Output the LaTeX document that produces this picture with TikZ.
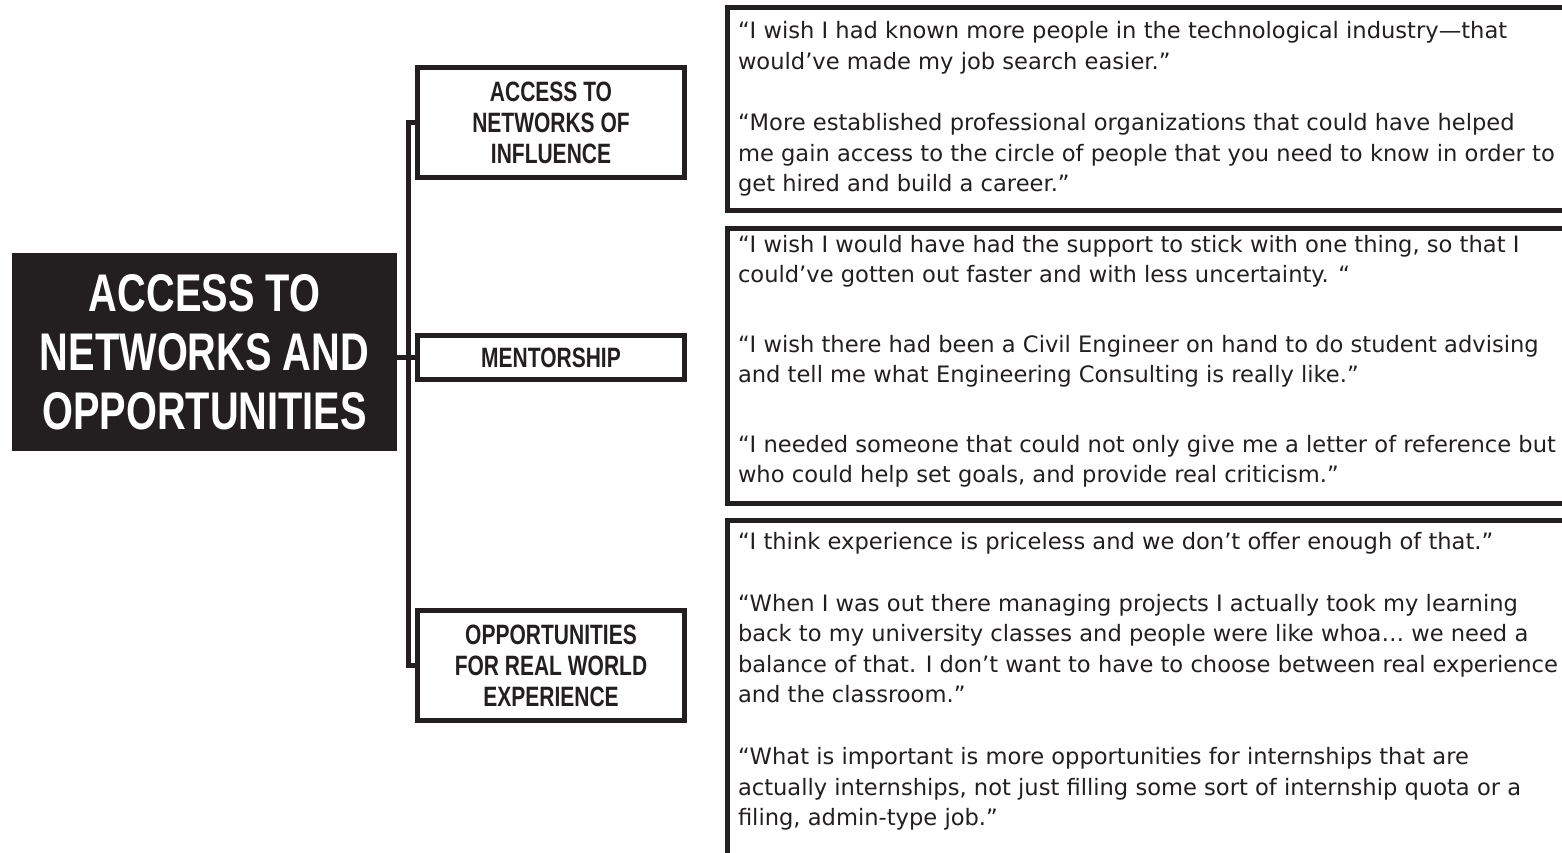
\documentclass[tikz,border=0pt]{standalone}
\usepackage{fontspec}
\setmainfont{Liberation Sans}
\newfontfamily\labelfont[FakeStretch=0.75]{Liberation Sans}
\newfontfamily\quotefont{DejaVu Sans}
\definecolor{ink}{HTML}{231F20}
\begin{document}
\begin{tikzpicture}[x=1pt,y=-1pt,
  mainbox/.style={fill=ink,text=white,anchor=north west,inner sep=0pt,outer sep=0pt,align=center,
    font=\labelfont\bfseries\fontsize{53}{59}\selectfont},
  midbox/.style={draw=ink,line width=5pt,anchor=north west,inner sep=0pt,outer sep=0pt,align=center,
    minimum width=267pt,text=ink,font=\labelfont\bfseries\fontsize{28}{31}\selectfont},
  qbox/.style={draw=ink,line width=5pt,anchor=north west,inner sep=0pt,outer sep=0pt,minimum width=900pt},
  quote/.style={anchor=north west,inner sep=0pt,outer sep=0pt,align=left,text=ink,
    font=\quotefont\fontsize{22.6}{30.5}\selectfont},
  conn/.style={draw=ink,line width=5pt,line join=miter}]
\useasboundingbox (0,0) rectangle (1562,852);
\clip (0,0) rectangle (1562,852);

% main box
\node[mainbox,minimum width=385pt,minimum height=198pt] (main) at (12,253)
  {ACCESS TO\\NETWORKS AND\\OPPORTUNITIES};

% middle boxes
\node[midbox,minimum height=110pt] (inf) at (417.5,67.5) {ACCESS TO\\NETWORKS OF\\INFLUENCE};
\node[midbox,minimum height=44pt] (men) at (417.5,335.5) {MENTORSHIP};
\node[midbox,minimum height=110pt] (opp) at (417.5,610.5) {OPPORTUNITIES\\FOR REAL WORLD\\EXPERIENCE};

% connectors
\draw[conn] (inf.west) -- ++(-9,0) |- (opp.west);
\draw[conn] (main.east |- men.west) -- (men.west);

% quote boxes
\node[qbox,minimum height=203pt] (qa) at (727.5,7.5) {};
\node[qbox,minimum height=275.5pt] (qb) at (727.5,228) {};
\node[qbox,minimum height=400pt] (qc) at (727.5,520) {};

\node[quote] (ta) at (738,21.5) {“I wish I had known more people in the technological industry—that\\
would’ve made my job search easier.”\\[31pt]
“More established professional organizations that could have helped\\
me gain access to the circle of people that you need to know in order to\\
get hired and build a career.”};

\node[quote] (tb) at (738,235) {“I wish I would have had the support to stick with one thing, so that I\\
could’ve gotten out faster and with less uncertainty. “\\[39pt]
“I wish there had been a Civil Engineer on hand to do student advising\\
and tell me what Engineering Consulting is really like.”\\[39pt]
“I needed someone that could not only give me a letter of reference but\\
who could help set goals, and provide real criticism.”};

\node[quote] (tc) at (738,532) {“I think experience is priceless and we don’t offer enough of that.”\\[31.5pt]
“When I was out there managing projects I actually took my learning\\
back to my university classes and people were like whoa… we need a\\
balance of that. I don’t want to have to choose between real experience\\
and the classroom.”\\[31.5pt]
“What is important is more opportunities for internships that are\\
actually internships, not just filling some sort of internship quota or a\\
filing, admin-type job.”};
\end{tikzpicture}
\end{document}
